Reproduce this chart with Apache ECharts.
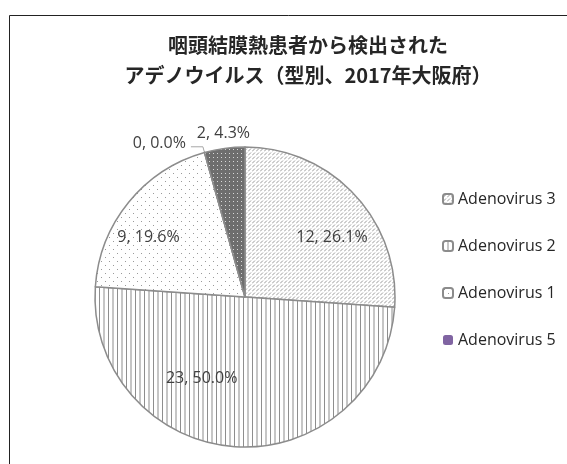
<!DOCTYPE html>
<html><head><meta charset="utf-8">
<script src="https://cdn.jsdelivr.net/npm/echarts@6/dist/echarts.min.js"></script>
<style>html,body{margin:0;padding:0;background:#fff}#c{width:567px;height:464px}</style>
</head><body><div id="c"></div>
<script>
const titleLines = ['咽頭結膜熱患者から検出された', 'アデノウイルス（型別、2017年大阪府）'];
const categories = ['Adenovirus 3', 'Adenovirus 2', 'Adenovirus 1', 'Adenovirus 4', 'Adenovirus 5'];
const values = [12, 23, 9, 0, 2];
const legendNames = ['Adenovirus 3', 'Adenovirus 2', 'Adenovirus 1', 'Adenovirus 5'];

function tile(w, h, bg, draw) {
  const c = document.createElement('canvas');
  c.width = w; c.height = h;
  const g = c.getContext('2d');
  g.fillStyle = bg; g.fillRect(0, 0, w, h);
  draw(g);
  return { image: c, repeat: 'repeat' };
}
const pDiag = tile(4, 4, '#ffffff', g => {
  g.strokeStyle = '#9a9a9a'; g.lineWidth = 1;
  g.beginPath(); g.moveTo(0, 3.5); g.lineTo(3, 0.5); g.stroke();
});
const pVert = tile(9, 4, '#ffffff', g => {
  g.fillStyle = '#8e8e8e'; g.fillRect(0, 0, 1, 4); g.fillRect(4.5, 0, 1, 4);
});
const pDots = tile(8, 8, '#ffffff', g => {
  g.fillStyle = '#9a9a9a'; g.fillRect(1, 1, 1, 1); g.fillRect(5, 5, 1, 1);
});
const pDark = tile(4, 4, '#6e6e6e', g => {
  g.fillStyle = '#d8d8d8'; g.fillRect(1, 1, 1, 1);
});
const fills = [pDiag, pVert, pDots, '#ffffff', pDark];

// label placement tweaks (style only)
const labelTweaks = [[30, -6], [-38, 4], [-36, -10], [0, -3], [31, -11]];

const total = values.reduce((a, b) => a + b, 0);
const data = categories.map((n, i) => {
  const d = { name: n, value: values[i], itemStyle: { color: fills[i] } };
  if (i === 3) {
    d.label = { position: 'outside' };
    d.labelLine = { show: true, length: 6, length2: 12, lineStyle: { color: '#a6a6a6', width: 1 } };
  } else if (i === 4) {
    d.label = { position: 'outside' };
    d.labelLine = { show: false, length: 4, length2: 0 };
  }
  return d;
});

const chart = echarts.init(document.getElementById('c'));
chart.setOption({
  animation: false,
  graphic: [{ type: 'rect', shape: { x: 9.5, y: 15.5, width: 600, height: 500 }, style: { fill: 'none', stroke: '#222', lineWidth: 1 } }],
  title: {
    text: titleLines.join('\n'), left: 303, top: 25, textAlign: 'center',
    textStyle: { fontFamily: 'Noto Sans CJK JP', fontWeight: 'bold', fontSize: 20, lineHeight: 30, color: '#262626' }
  },
  legend: {
    orient: 'vertical', left: 437, top: 184, itemWidth: 10, itemHeight: 10, itemGap: 27,
    textStyle: { fontFamily: 'Open Sans', fontSize: 16, color: '#262626', lineHeight: 20 },
    data: legendNames.map(n => n === 'Adenovirus 5'
      ? { name: n, itemStyle: { color: '#8064a2', borderWidth: 0 } }
      : { name: n })
  },
  series: [{
    type: 'pie', center: [245, 297], radius: 150, startAngle: 90, clockwise: true,
    avoidLabelOverlap: false,
    itemStyle: { borderColor: '#8c8c8c', borderWidth: 1.5 },
    label: {
      position: 'inside', fontFamily: 'Open Sans', fontSize: 16, color: '#404040',
      formatter: p => p.value + ', ' + (p.value / total * 100).toFixed(1) + '%'
    },
    labelLayout: p => { const t = labelTweaks[p.dataIndex]; return { dx: t[0], dy: t[1] }; },
    emphasis: { disabled: true },
    data: data
  }]
});
</script></body></html>
